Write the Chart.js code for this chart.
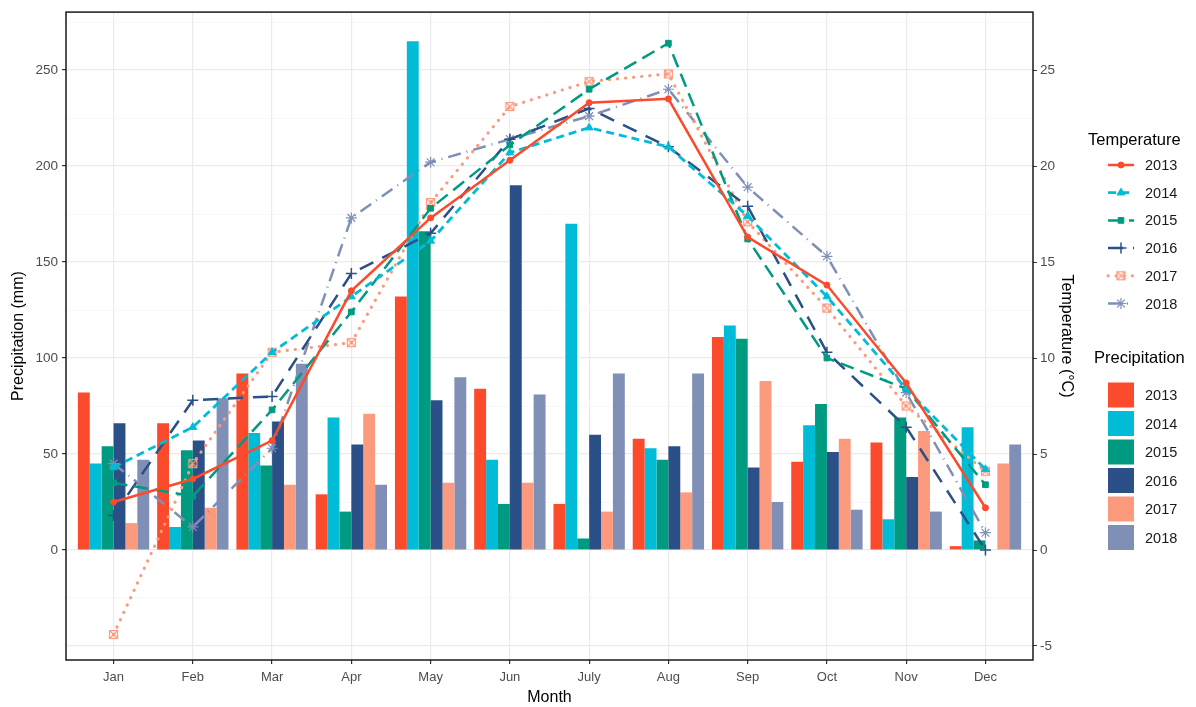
<!DOCTYPE html>
<html>
<head>
<meta charset="utf-8">
<script src="https://cdn.jsdelivr.net/npm/chart.js@4.4.0/dist/chart.umd.min.js"></script>
<style>
  html, body { margin: 0; padding: 0; background: #fff; }
  canvas { display: block; }
</style>
</head>
<body>
<canvas id="c" width="1196" height="707"></canvas>
<script>
'use strict';

var months = ['Jan', 'Feb', 'Mar', 'Apr', 'May', 'Jun', 'July', 'Aug', 'Sep', 'Oct', 'Nov', 'Dec'];
var years  = ['2013', '2014', '2015', '2016', '2017', '2018'];

// precipitation, mm
var precip2013 = [82, 66, 92, 29, 132, 84, 24, 58, 111, 46, 56, 2];
var precip2014 = [45, 12, 61, 69, 265, 47, 170, 53, 117, 65, 16, 64];
var precip2015 = [54, 52, 44, 20, 166, 24, 6, 47, 110, 76, 69, 5];
var precip2016 = [66, 57, 67, 55, 78, 190, 60, 54, 43, 51, 38, 0];
var precip2017 = [14, 22, 34, 71, 35, 35, 20, 30, 88, 58, 62, 45];
var precip2018 = [47, 79, 97, 34, 90, 81, 92, 92, 25, 21, 20, 55];

// temperature, °C
var temp2013 = [2.5, 3.7, 5.7, 13.5, 17.3, 20.3, 23.3, 23.5, 16.3, 13.8, 8.7, 2.2];
var temp2014 = [4.3, 6.4, 10.3, 13.2, 16.1, 20.7, 22.0, 21.0, 17.4, 13.2, 8.4, 4.2];
var temp2015 = [3.5, 2.8, 7.3, 12.4, 17.8, 21.1, 24.0, 26.4, 16.2, 10.0, 8.4, 3.4];
var temp2016 = [1.8, 7.8, 8.0, 14.4, 16.5, 21.4, 23.0, 21.0, 17.9, 10.3, 6.4, 0.0];
var temp2017 = [-4.4, 4.5, 10.3, 10.8, 18.1, 23.1, 24.4, 24.8, 17.1, 12.6, 7.5, 4.1];
var temp2018 = [4.5, 1.2, 5.3, 17.3, 20.2, 21.4, 22.6, 24.0, 18.9, 15.3, 8.2, 0.9];

var precipTicks = [-50, -25, 0, 25, 50, 75, 100, 125, 150, 175, 200, 225, 250, 275];
var tempTicks   = [-5, 0, 5, 10, 15, 20, 25];

var barColors  = ['#fb4a2c', '#00bcd6', '#009a80', '#2b5088', '#fc9a7e', '#7f8fb6'];
var lineColors = ['#fb4a2c', '#00bcd6', '#009a80', '#2b5088', '#fc9a7e', '#7f8fb6'];

var FONT = '"Liberation Sans", Arial, sans-serif';

function boxCross(color) {
  var c = document.createElement('canvas');
  c.width = 11; c.height = 11;
  var g = c.getContext('2d');
  g.strokeStyle = color;
  g.lineWidth = 1.2;
  g.strokeRect(1.5, 1.5, 8, 8);
  g.beginPath();
  g.moveTo(1.5, 1.5); g.lineTo(9.5, 9.5);
  g.moveTo(9.5, 1.5); g.lineTo(1.5, 9.5);
  g.stroke();
  return c;
}

function xy(arr) {
  return arr.map(function(v, i) { return { x: i, y: v }; });
}

var precip = [precip2013, precip2014, precip2015, precip2016, precip2017, precip2018];
var temps  = [temp2013, temp2014, temp2015, temp2016, temp2017, temp2018];

var barSets = precip.map(function(p, i) {
  return {
    type: 'bar',
    label: years[i],
    data: xy(p),
    backgroundColor: barColors[i],
    borderWidth: 0,
    categoryPercentage: 0.9,
    barPercentage: 1.0,
    yAxisID: 'y',
    order: 2
  };
});

var lineStyles = [
  { dash: [],            width: 2.5, cap: 'butt',  point: 'circle',   radius: 3,   pw: 1 },
  { dash: [8, 5],        width: 2.8, cap: 'butt',  point: 'triangle', radius: 4.5, pw: 1 },
  { dash: [14, 7],       width: 2.5, cap: 'butt',  point: 'rect',     radius: 4,   pw: 1 },
  { dash: [15, 10],      width: 2.5, cap: 'butt',  point: 'cross',    radius: 5.5, pw: 1.5 },
  { dash: [0.1, 8],      width: 3.2, cap: 'round', point: boxCross(lineColors[4]), radius: 5, pw: 1 },
  { dash: [13, 6, 1, 6], width: 2.5, cap: 'butt',  point: 'star',     radius: 5.5, pw: 1.2 }
];

var lineSets = temps.map(function(t, i) {
  var s = lineStyles[i];
  return {
    type: 'line',
    label: years[i],
    data: xy(t),
    borderColor: lineColors[i],
    borderWidth: s.width,
    borderDash: s.dash,
    borderCapStyle: s.cap,
    pointStyle: s.point,
    pointRadius: s.radius,
    pointBorderWidth: s.pw,
    pointBackgroundColor: lineColors[i],
    pointBorderColor: lineColors[i],
    tension: 0,
    fill: false,
    yAxisID: 'y2',
    order: 1
  };
});

// panel border on top of everything + two-part legend on the right
var framePlugin = {
  id: 'frame',
  afterDraw: function(chart) {
    var ctx = chart.ctx;
    var a = chart.chartArea;
    ctx.save();
    ctx.strokeStyle = '#1a1a1a';
    ctx.lineWidth = 1.5;
    ctx.strokeRect(a.left, a.top, a.right - a.left, a.bottom - a.top);

    ctx.textBaseline = 'middle';
    ctx.textAlign = 'left';
    ctx.fillStyle = '#000';
    ctx.font = '16.5px ' + FONT;
    ctx.fillText('Temperature', 1088, 140);

    lineSets.forEach(function(ds, i) {
      var y = 165 + i * 27.7;
      ctx.strokeStyle = ds.borderColor;
      ctx.lineWidth = ds.borderWidth;
      ctx.lineCap = ds.borderCapStyle;
      ctx.setLineDash(ds.borderDash);
      ctx.beginPath();
      ctx.moveTo(1108, y);
      ctx.lineTo(1134, y);
      ctx.stroke();
      ctx.setLineDash([]);
      ctx.lineCap = 'butt';
      ctx.fillStyle = ds.pointBackgroundColor;
      ctx.strokeStyle = ds.pointBorderColor;
      ctx.lineWidth = ds.pointBorderWidth;
      Chart.helpers.drawPoint(ctx, {
        pointStyle: ds.pointStyle, radius: ds.pointRadius,
        borderWidth: ds.pointBorderWidth, rotation: 0
      }, 1121, y);
      ctx.fillStyle = '#1a1a1a';
      ctx.font = '14.5px ' + FONT;
      ctx.fillText(years[i], 1145, y + 1);
    });

    ctx.fillStyle = '#000';
    ctx.font = '16.5px ' + FONT;
    ctx.fillText('Precipitation', 1094, 358);
    barSets.forEach(function(ds, i) {
      var y = 395 + i * 28.5;
      ctx.fillStyle = ds.backgroundColor;
      ctx.fillRect(1108, y - 12.5, 26, 25);
      ctx.fillStyle = '#1a1a1a';
      ctx.font = '14.5px ' + FONT;
      ctx.fillText(years[i], 1145, y + 1);
    });
    ctx.restore();
  }
};

var precipMin = -57.3, precipMax = 280.2;

function gridColor(c) {
  return (c.tick && c.tick.value % 50 === 0) ? '#ebebeb' : '#f3f3f3';
}

new Chart(document.getElementById('c'), {
  type: 'bar',
  data: { datasets: barSets.concat(lineSets) },
  options: {
    responsive: false,
    animation: false,
    layout: { padding: { top: 12, right: 118, left: 0, bottom: 0 } },
    plugins: { legend: { display: false }, tooltip: { enabled: false } },
    scales: {
      x: {
        type: 'linear',
        min: -0.6,
        max: 11.6,
        offset: false,
        afterBuildTicks: function(s) { s.ticks = months.map(function(m, i) { return { value: i }; }); },
        afterFit: function(s) { s.height = 47; },
        ticks: {
          callback: function(v) { return months[v]; },
          color: '#4d4d4d', font: { family: FONT, size: 13 }, padding: 6,
          autoSkip: false, maxRotation: 0
        },
        grid: { color: '#ebebeb', lineWidth: 1.2, tickColor: '#333', tickLength: 4, offset: false },
        border: { display: false },
        title: { display: true, text: 'Month', color: '#000', font: { family: FONT, size: 16 }, padding: { top: 0, bottom: 0 } }
      },
      y: {
        type: 'linear',
        position: 'left',
        min: precipMin,
        max: precipMax,
        afterBuildTicks: function(s) { s.ticks = precipTicks.map(function(v) { return { value: v }; }); },
        afterFit: function(s) { s.width = 66; },
        ticks: {
          callback: function(v) { return (v >= 0 && v % 50 === 0) ? String(v) : ''; },
          color: '#4d4d4d', font: { family: FONT, size: 13.5 }, padding: 4
        },
        grid: {
          color: gridColor,
          lineWidth: function(c) { return (c.tick && c.tick.value % 50 === 0) ? 1.2 : 0.7; },
          tickColor: function(c) { return (c.tick && c.tick.value >= 0 && c.tick.value % 50 === 0) ? '#333' : 'rgba(0,0,0,0)'; },
          tickLength: 4
        },
        border: { display: false },
        title: { display: true, text: 'Precipitation (mm)', color: '#000', font: { family: FONT, size: 16 }, padding: { top: 9, bottom: 0 } }
      },
      y2: {
        type: 'linear',
        position: 'right',
        min: precipMin / 10,
        max: precipMax / 10,
        afterBuildTicks: function(s) { s.ticks = tempTicks.map(function(v) { return { value: v }; }); },
        afterFit: function(s) { s.width = 45; },
        ticks: { color: '#4d4d4d', font: { family: FONT, size: 13.5 }, padding: 3 },
        grid: { drawOnChartArea: false, tickColor: '#333', tickLength: 4 },
        border: { display: false },
        title: { display: true, text: 'Temperature (°C)', color: '#000', font: { family: FONT, size: 16 }, padding: { top: 2, bottom: 0 } }
      }
    }
  },
  plugins: [framePlugin]
});
</script>
</body>
</html>
